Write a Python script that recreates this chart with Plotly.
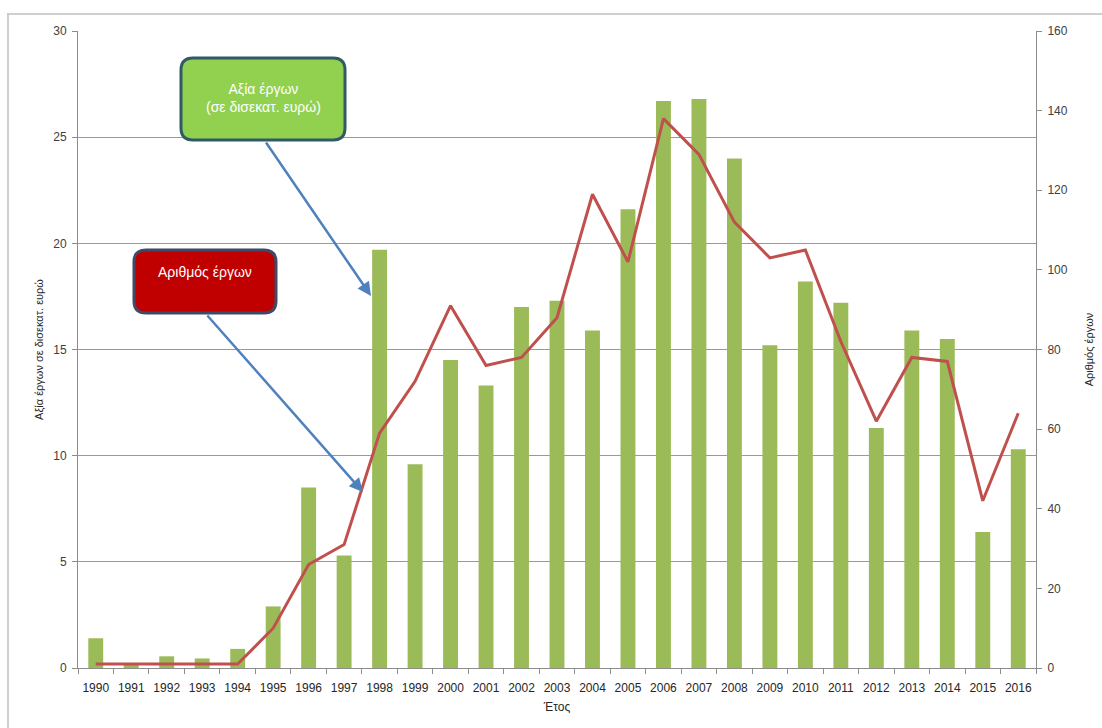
import plotly.graph_objects as go

years = [str(y) for y in range(1990, 2017)]
value_bn_eur = [1.4, 0.2, 0.55, 0.45, 0.9, 2.9, 8.5, 5.3, 19.7, 9.6, 14.5, 13.3, 17.0, 17.3,
                15.9, 21.6, 26.7, 26.8, 24.0, 15.2, 18.2, 17.2, 11.3, 15.9, 15.5, 6.4, 10.3]
num_projects = [1, 1, 1, 1, 1, 10, 26, 31, 59, 72, 91, 76, 78, 88,
                119, 102, 138, 129, 112, 103, 105, 82, 62, 78, 77, 42, 64]
left_ticks = [0, 5, 10, 15, 20, 25, 30]
right_ticks = [0, 20, 40, 60, 80, 100, 120, 140, 160]

FONT = "Liberation Sans"
TXT = "#404040"

fig = go.Figure()
fig.add_trace(go.Bar(x=years, y=value_bn_eur, marker=dict(color="#9bbb59", line=dict(width=0)),
                     yaxis="y", showlegend=False))
fig.add_trace(go.Scatter(x=years, y=num_projects, mode="lines", line=dict(color="#c0504d", width=3),
                         yaxis="y2", showlegend=False))

W, H = 1102, 728
L, R, T, B = 78, 1036, 31, 668
ml, mr, mt, mb = L, W - R, T, H - B
pw, ph = R - L, B - T

def px(x):
    return (x - L) / pw

def py(y):
    return (B - y) / ph

shapes = []
shapes.append(dict(type="line", xref="paper", yref="paper", x0=px(7), x1=px(1110), y0=py(14), y1=py(14),
                   line=dict(color="#bfbfbf", width=1.5), layer="below"))
shapes.append(dict(type="line", xref="paper", yref="paper", x0=px(8), x1=px(8), y0=py(14), y1=py(740),
                   line=dict(color="#bfbfbf", width=1.5), layer="below"))

def rounded(x0, y0, x1, y1, r, fill, border):
    X0, X1 = px(x0), px(x1)
    Y0, Y1 = py(y0), py(y1)
    rx, ry = r / pw, r / ph
    path = (f"M {X0+rx},{Y0} L {X1-rx},{Y0} Q {X1},{Y0} {X1},{Y0-ry} "
            f"L {X1},{Y1+ry} Q {X1},{Y1} {X1-rx},{Y1} L {X0+rx},{Y1} Q {X0},{Y1} {X0},{Y1+ry} "
            f"L {X0},{Y0-ry} Q {X0},{Y0} {X0+rx},{Y0} Z")
    return dict(type="path", xref="paper", yref="paper", path=path, fillcolor=fill,
                line=dict(color=border, width=3), layer="above")

shapes.append(rounded(181, 58, 345, 140, 12, "#92d050", "#2f5a66"))
shapes.append(rounded(134, 250, 276, 313, 12, "#c00000", "#3f4a66"))

annotations = []
for (hx, hy, tx, ty) in [(371, 296, 265, 141), (363, 492, 206, 314)]:
    annotations.append(dict(xref="paper", yref="paper", x=px(hx), y=py(hy), ax=tx - hx, ay=ty - hy,
                            axref="pixel", ayref="pixel", showarrow=True, arrowhead=2, arrowsize=1.1,
                            arrowwidth=2.5, arrowcolor="#4f81bd", text=""))
annotations.append(dict(xref="paper", yref="paper", x=px(263), y=py(98), xanchor="center", yanchor="middle",
                        showarrow=False,
                        text="Αξία έργων<br>(σε δισεκατ. ευρώ)", font=dict(family=FONT, size=14, color="white"),
                        align="center"))
annotations.append(dict(xref="paper", yref="paper", x=px(205), y=py(272), xanchor="center", yanchor="middle",
                        showarrow=False,
                        text="Αριθμός έργων", font=dict(family=FONT, size=14, color="white"),
                        align="center"))

fig.update_layout(
    width=W, height=H,
    margin=dict(l=ml, r=mr, t=mt, b=mb, pad=0),
    paper_bgcolor="white", plot_bgcolor="white",
    bargap=0.58,
    font=dict(family=FONT, size=12, color=TXT),
    xaxis=dict(type="category", showline=True, linecolor="#8c8c8c", linewidth=1,
               ticks="outside", tickson="boundaries", ticklen=5, tickcolor="#8c8c8c",
               tickfont=dict(size=12, color="#262626"), ticklabelstandoff=9, tickangle=0,
               title=dict(text="Έτος", font=dict(size=12, color="#262626"), standoff=8),
               showgrid=False, zeroline=False, automargin=False),
    yaxis=dict(range=[0, 30], tickvals=left_ticks, showline=True, linecolor="#8c8c8c", linewidth=1,
               ticks="outside", ticklen=5, tickcolor="#8c8c8c", gridcolor="#999999", gridwidth=1,
               tickfont=dict(size=12, color=TXT), zeroline=False, ticklabelstandoff=3, automargin=False,
               title=dict(text="Αξία έργων σε δισεκατ. ευρώ", font=dict(size=11, color="#262626"), standoff=7)),
    yaxis2=dict(range=[0, 160], tickvals=right_ticks, overlaying="y", side="right", showline=True,
                linecolor="#8c8c8c", linewidth=1, ticks="outside", ticklen=5, tickcolor="#8c8c8c",
                showgrid=False, zeroline=False, tickfont=dict(size=12, color=TXT), ticklabelstandoff=3,
                automargin=False,
                title=dict(text="Αριθμός έργων", font=dict(size=11, color="#262626"), standoff=18)),
    shapes=shapes,
    annotations=annotations,
)

fig.write_html("out.html")
